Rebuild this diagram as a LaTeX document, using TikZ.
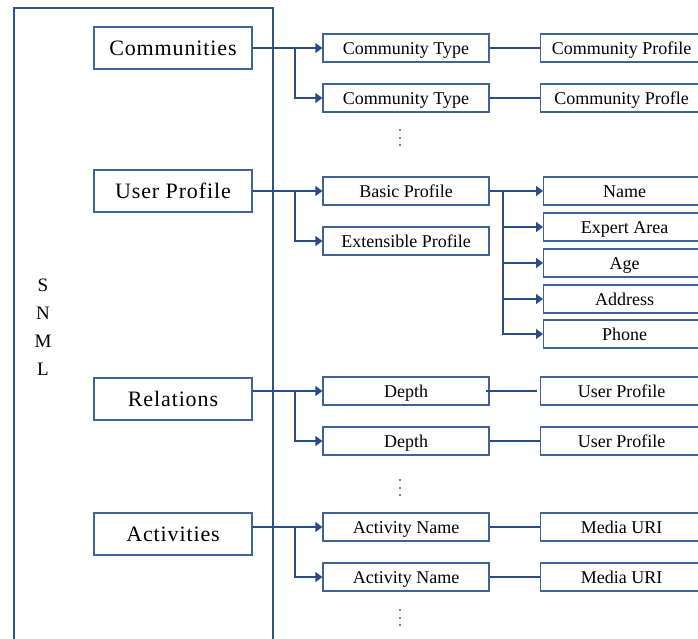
\documentclass[tikz,border=0pt]{standalone}
\usepackage{fontspec}
\setmainfont{Liberation Serif}
\newfontfamily\spacedserif[LetterSpace=4]{Liberation Serif}
\usetikzlibrary{arrows.meta}
\definecolor{framecol}{HTML}{2E5190}
\definecolor{boxcol}{HTML}{3D6399}
\definecolor{linecol}{HTML}{2B4C86}
\tikzset{
  x=1pt, y=-1pt,
  topbox/.style={draw=boxcol, line width=1.2pt, minimum width=158pt, minimum height=42pt,
    inner sep=0pt, text height=14pt, text depth=0pt,
    font=\spacedserif\fontsize{22}{24}\selectfont},
  midbox/.style={draw=boxcol, line width=1.2pt, minimum width=166pt, minimum height=28pt,
    inner sep=0pt, text height=12pt, text depth=0pt, font=\fontsize{18}{20}\selectfont},
  leafbox/.style={draw=boxcol, line width=1.2pt, minimum width=162pt, minimum height=28pt,
    inner sep=0pt, text height=12pt, text depth=0pt, anchor=west,
    font=\fontsize{18}{20}\selectfont},
  link/.style={draw=linecol, line width=1.2pt},
  arr/.style={link, -{Triangle[length=7pt,width=10pt]}},
  vdots/.style={fill=black, minimum size=1.6pt, inner sep=0pt, circle},
}
\begin{document}
\begin{tikzpicture}
\clip (0,0) rectangle (698,638);
\fill[white] (0,0) rectangle (698,638);

% outer SNML frame (open at the bottom)
\draw[draw=framecol, line width=2pt] (14,660) -- (14,8) -- (273,8) -- (273,660);
\node[align=center, font=\fontsize{19}{28}\selectfont] (snml) at (43,327) {S\\N\\M\\L};

% top-level elements
\node[topbox] (comm) at (173,48) {Communities};
\node[topbox] (user) at (173,191) {User Profile};
\node[topbox] (rel)  at (173,399) {Relations};
\node[topbox] (act)  at (173,534) {Activities};

% second level
\node[midbox] (ct1) at (406,48)  {Community Type};
\node[midbox] (ct2) at (406,98)  {Community Type};
\node[midbox] (bp)  at (406,191) {Basic Profile};
\node[midbox] (ep)  at (406,241) {Extensible Profile};
\node[midbox] (d1)  at (406,391) {Depth};
\node[midbox] (d2)  at (406,441) {Depth};
\node[midbox] (an1) at (406,527) {Activity Name};
\node[midbox] (an2) at (406,577) {Activity Name};

% third level
\node[leafbox] (cp1) at (540,48)  {Community Profile};
\node[leafbox] (cp2) at (540,98)  {Community Profle};
\node[leafbox] (up1) at (540,391) {User Profile};
\node[leafbox] (up2) at (540,441) {User Profile};
\node[leafbox] (mu1) at (540,527) {Media URI};
\node[leafbox] (mu2) at (540,577) {Media URI};

\node[leafbox] (name)  at (543,191) {Name};
\node[leafbox] (exp)   at (543,227) {Expert Area};
\node[leafbox] (age)   at (543,263) {Age};
\node[leafbox] (addr)  at (543,299) {Address};
\node[leafbox] (phone) at (543,334) {Phone};

% branching points
\coordinate (cj) at (295,48);
\coordinate (uj) at (295,191);
\coordinate (rj) at (295,391);
\coordinate (aj) at (295,527);
\coordinate (bj) at (503,191);

% first-level connectors
\draw[arr] (comm.east) -- (ct1.west);
\draw[arr] (cj) |- (ct2.west);
\draw[arr] (user.east) -- (bp.west);
\draw[arr] (uj) |- (ep.west);
\draw[arr] (rel.east |- d1.west) -- (d1.west);
\draw[arr] (rj) |- (d2.west);
\draw[arr] (act.east |- an1.west) -- (an1.west);
\draw[arr] (aj) |- (an2.west);

% second-level connectors
\draw[link] (ct1.east) -- (cp1.west);
\draw[link] (ct2.east) -- (cp2.west);
\draw[link, shorten <=-4pt, shorten >=3pt] (d1.east) -- (up1.west);
\draw[link] (d2.east) -- (up2.west);
\draw[link] (an1.east) -- (mu1.west);
\draw[link] (an2.east) -- (mu2.west);

% basic profile fields
\draw[arr] (bp.east) -- (name.west);
\foreach \f in {exp, age, addr, phone} {
  \draw[arr] (bj) |- (\f.west);
}

% continuation marks
\foreach \y [count=\i] in {130,480,610} {
  \node[vdots] (dotA\i) at (400,\y) {};
  \node[vdots] (dotB\i) at (400,\y+8) {};
  \node[vdots] (dotC\i) at (400,\y+15) {};
}
\end{tikzpicture}
\end{document}
